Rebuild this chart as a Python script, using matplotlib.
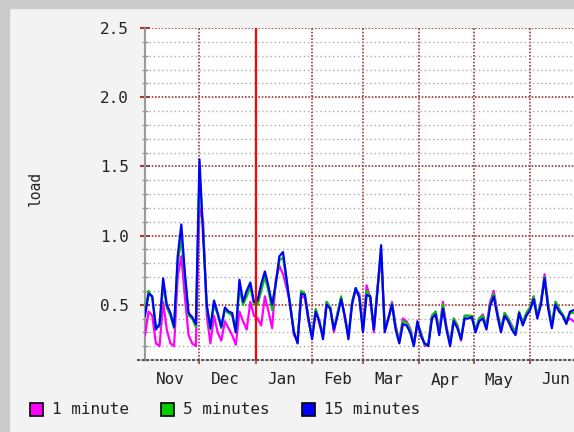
import matplotlib
matplotlib.use("Agg")
import matplotlib.pyplot as plt
import matplotlib.dates as mdates
from matplotlib.patches import Rectangle
from matplotlib.ticker import MultipleLocator, FormatStrFormatter
import pandas as pd

# one sample every 2 days, starting 1 Nov
start = "2008-11-01"
step_days = 2
span_days = 236.2

month_starts = ["2008-12-01", "2009-01-01", "2009-02-01", "2009-03-01",
                "2009-04-01", "2009-05-01", "2009-06-01"]
year_mark = "2009-01-01"

series_names = ["1 minute", "5 minutes", "15 minutes"]
series_colors = ["#ff00ff", "#00cc00", "#0000ff"]

load_1min = [
    0.28, 0.45, 0.42, 0.22, 0.20, 0.52, 0.32, 0.22, 0.20, 0.70,
    0.85, 0.55, 0.28, 0.22, 0.20, 1.20, 1.10, 0.42, 0.22, 0.42,
    0.30, 0.24, 0.38, 0.33, 0.28, 0.21, 0.45, 0.38, 0.32, 0.52,
    0.42, 0.40, 0.35, 0.56, 0.45, 0.33, 0.68, 0.78, 0.72, 0.62,
    0.50, 0.28, 0.24, 0.56, 0.55, 0.38, 0.27, 0.46, 0.36, 0.28,
    0.52, 0.48, 0.30, 0.44, 0.55, 0.40, 0.28, 0.52, 0.60, 0.58,
    0.33, 0.64, 0.55, 0.30, 0.62, 0.85, 0.34, 0.40, 0.52, 0.35,
    0.24, 0.40, 0.38, 0.33, 0.22, 0.35, 0.30, 0.20, 0.22, 0.42,
    0.45, 0.30, 0.52, 0.34, 0.22, 0.40, 0.35, 0.24, 0.42, 0.42,
    0.40, 0.32, 0.40, 0.43, 0.34, 0.52, 0.60, 0.45, 0.32, 0.44,
    0.40, 0.35, 0.30, 0.43, 0.37, 0.44, 0.48, 0.56, 0.42, 0.52,
    0.72, 0.50, 0.35, 0.52, 0.47, 0.42, 0.38, 0.40, 0.38,
]

load_5min = [
    0.45, 0.60, 0.55, 0.35, 0.34, 0.64, 0.48, 0.42, 0.33, 0.80,
    0.98, 0.70, 0.42, 0.40, 0.34, 1.45, 1.05, 0.48, 0.32, 0.50,
    0.43, 0.33, 0.46, 0.44, 0.42, 0.30, 0.62, 0.50, 0.56, 0.63,
    0.50, 0.50, 0.60, 0.70, 0.60, 0.46, 0.66, 0.82, 0.84, 0.66,
    0.50, 0.30, 0.23, 0.60, 0.58, 0.40, 0.27, 0.47, 0.38, 0.27,
    0.52, 0.48, 0.32, 0.44, 0.56, 0.41, 0.27, 0.52, 0.62, 0.56,
    0.31, 0.60, 0.56, 0.32, 0.62, 0.90, 0.32, 0.40, 0.51, 0.34,
    0.23, 0.38, 0.37, 0.32, 0.21, 0.37, 0.29, 0.21, 0.22, 0.42,
    0.45, 0.30, 0.50, 0.33, 0.22, 0.40, 0.35, 0.25, 0.42, 0.42,
    0.42, 0.32, 0.40, 0.42, 0.34, 0.50, 0.58, 0.44, 0.32, 0.44,
    0.40, 0.34, 0.30, 0.45, 0.37, 0.44, 0.48, 0.56, 0.42, 0.52,
    0.70, 0.50, 0.35, 0.52, 0.47, 0.43, 0.38, 0.44, 0.44,
]

load_15min = [
    0.42, 0.58, 0.56, 0.32, 0.36, 0.69, 0.50, 0.44, 0.34, 0.85,
    1.08, 0.72, 0.44, 0.41, 0.36, 1.55, 1.00, 0.50, 0.33, 0.53,
    0.44, 0.34, 0.48, 0.45, 0.44, 0.30, 0.68, 0.52, 0.60, 0.66,
    0.52, 0.53, 0.65, 0.74, 0.63, 0.50, 0.65, 0.85, 0.88, 0.68,
    0.48, 0.30, 0.22, 0.58, 0.57, 0.40, 0.25, 0.45, 0.38, 0.25,
    0.50, 0.47, 0.32, 0.42, 0.54, 0.42, 0.25, 0.50, 0.62, 0.55,
    0.30, 0.57, 0.56, 0.32, 0.60, 0.93, 0.30, 0.40, 0.50, 0.32,
    0.22, 0.36, 0.35, 0.30, 0.20, 0.38, 0.27, 0.22, 0.20, 0.40,
    0.43, 0.28, 0.47, 0.32, 0.20, 0.38, 0.33, 0.25, 0.40, 0.40,
    0.41, 0.30, 0.38, 0.40, 0.32, 0.49, 0.56, 0.42, 0.30, 0.42,
    0.38, 0.32, 0.28, 0.44, 0.35, 0.42, 0.46, 0.54, 0.40, 0.50,
    0.69, 0.47, 0.33, 0.50, 0.45, 0.42, 0.36, 0.45, 0.46,
]


def main():
    W, H = 574, 432
    mono = "DejaVu Sans Mono"
    txt = "#222222"
    grid_red = "#a03a3a"

    fig = plt.figure(figsize=(W / 100, H / 100), dpi=100, facecolor="#f3f3f3")
    # grey frame on top / left
    fig.patches.append(Rectangle((0, 1 - 8 / H), 1, 8 / H, transform=fig.transFigure,
                                 color="#cbcbcb", zorder=0))
    fig.patches.append(Rectangle((0, 0), 9 / W, 1, transform=fig.transFigure,
                                 color="#cbcbcb", zorder=0))

    ax = fig.add_axes([145 / W, 1 - 360 / H, 1 - 145 / W, 332 / H])
    ax.set_facecolor("white")

    dates = pd.date_range(start, periods=len(load_15min), freq=f"{step_days}D")
    for vals, name, col in zip([load_1min, load_5min, load_15min], series_names, series_colors):
        ax.plot(dates, vals, color=col, lw=1.6, zorder=3, label=name)

    t0 = pd.Timestamp(start)
    ax.set_xlim(t0, t0 + pd.Timedelta(days=span_days))
    ax.set_ylim(0.1, 2.5)

    # year boundary
    ax.axvline(pd.Timestamp(year_mark), color="#ff0000", lw=1.6, zorder=5)

    # x axis: lines on month starts, labels on the 15th
    ax.set_xticks(pd.to_datetime(month_starts))
    ax.xaxis.set_major_formatter(plt.NullFormatter())
    ax.xaxis.set_minor_locator(mdates.MonthLocator(bymonthday=15))
    ax.xaxis.set_minor_formatter(mdates.DateFormatter("%b"))
    ax.tick_params(axis="x", which="major", direction="out", length=3, width=1.2,
                   color=grid_red)
    ax.tick_params(axis="x", which="minor", length=0, pad=9, labelsize=11.5,
                   labelcolor=txt)

    # y axis
    ax.yaxis.set_major_locator(MultipleLocator(0.5))
    ax.yaxis.set_minor_locator(MultipleLocator(0.1))
    ax.yaxis.set_major_formatter(FormatStrFormatter("%.1f"))
    ax.tick_params(axis="y", which="major", direction="inout", length=7, width=1.5,
                   color=grid_red, pad=8, labelsize=11.5, labelcolor=txt)
    ax.tick_params(axis="y", which="minor", direction="inout", length=4, width=1,
                   color="#999999")

    for lab in ax.get_xticklabels(minor=True) + ax.get_yticklabels():
        lab.set_fontfamily(mono)

    ax.grid(axis="y", which="minor", color="#aaaaaa", lw=1, linestyle=(0, (1, 2)))
    ax.grid(axis="both", which="major", color=grid_red, lw=1.2, linestyle=(0, (1, 1)))
    ax.set_axisbelow(True)

    for s in ["top", "right"]:
        ax.spines[s].set_visible(False)
    ax.spines["left"].set_color("#999999")
    ax.spines["left"].set_linestyle((0, (1, 1)))
    ax.spines["left"].set_linewidth(1.5)
    ax.spines["bottom"].set_visible(False)
    ax.plot([-8 / 429, 1], [0, 0], transform=ax.transAxes, clip_on=False,
            color="#555555", lw=1.5, linestyle=(0, (1.5, 0.7)), zorder=4)

    fig.text(35 / W, 1 - 189 / H, "load", rotation=90, ha="center", va="center",
             family=mono, fontsize=10.5, color=txt)

    # legend row
    legend_x = [30, 161, 302]
    for x, name, col in zip(legend_x, series_names, series_colors):
        fig.patches.append(Rectangle((x / W, 1 - 416 / H), 13 / W, 13 / H,
                                     transform=fig.transFigure, facecolor=col,
                                     edgecolor="black", lw=1.2))
        fig.text((x + 22) / W, 1 - 410 / H, name, ha="left", va="center",
                 family=mono, fontsize=11.5, color=txt)

    fig.savefig("out.png", dpi=100, facecolor=fig.get_facecolor())


if __name__ == "__main__":
    main()
